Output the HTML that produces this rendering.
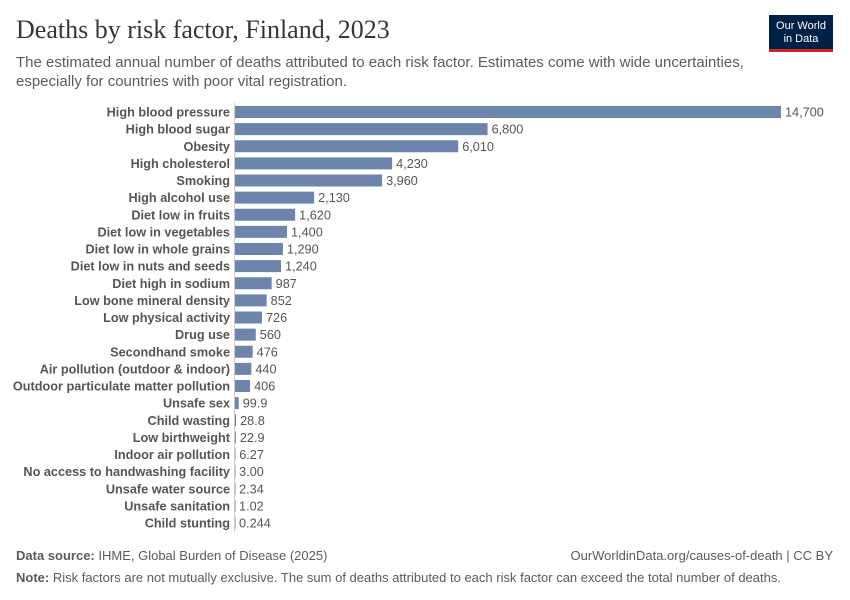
<!DOCTYPE html>
<html><head><meta charset="utf-8"><style>
body{margin:0;width:850px;height:600px;background:#fff;font-family:"Liberation Sans",sans-serif;position:relative;overflow:hidden}
.t{position:absolute;white-space:nowrap}
</style></head><body>
<div class="t" style="left:16px;top:15px;font-family:'Liberation Serif',serif;font-size:26px;color:#373737">Deaths by risk factor, Finland, 2023</div>
<div class="t" style="left:16px;top:53px;font-size:15px;line-height:19px;color:#5b5b5b">The estimated annual number of deaths attributed to each risk factor. Estimates come with wide uncertainties,<br>especially for countries with poor vital registration.</div>
<div style="position:absolute;left:769px;top:15px;width:64px;height:37px;background:#002147;border-bottom:3px solid #ce261e;box-sizing:border-box;color:#fff;font-size:11px;line-height:13px;text-align:center;padding-top:5px">Our World<br>in Data</div>
<svg id="c" width="850" height="600" style="position:absolute;left:0;top:0"></svg>
<div class="t" style="left:16px;top:548px;font-size:13px;color:#5b5b5b"><b>Data source:</b> IHME, Global Burden of Disease (2025)</div>
<div class="t" style="right:17px;top:548px;font-size:13px;color:#5b5b5b">OurWorldinData.org/causes-of-death | CC BY</div>
<div class="t" style="left:16px;top:570px;font-size:13px;color:#5b5b5b"><b>Note:</b> Risk factors are not mutually exclusive. The sum of deaths attributed to each risk factor can exceed the total number of deaths.</div>
<script>
const categories=["High blood pressure","High blood sugar","Obesity","High cholesterol","Smoking","High alcohol use","Diet low in fruits","Diet low in vegetables","Diet low in whole grains","Diet low in nuts and seeds","Diet high in sodium","Low bone mineral density","Low physical activity","Drug use","Secondhand smoke","Air pollution (outdoor & indoor)","Outdoor particulate matter pollution","Unsafe sex","Child wasting","Low birthweight","Indoor air pollution","No access to handwashing facility","Unsafe water source","Unsafe sanitation","Child stunting"];
const values=[14700,6800,6010,4230,3960,2130,1620,1400,1290,1240,987,852,726,560,476,440,406,99.9,28.8,22.9,6.27,3.00,2.34,1.02,0.244];
const valueLabels=["14,700","6,800","6,010","4,230","3,960","2,130","1,620","1,400","1,290","1,240","987","852","726","560","476","440","406","99.9","28.8","22.9","6.27","3.00","2.34","1.02","0.244"];
const svg=document.getElementById('c');const NS='http://www.w3.org/2000/svg';
const x0=235,x1=781,y0=112,y1=523;
const maxV=Math.max(...values);
const xs=v=>x0+v/maxV*(x1-x0);
const ys=i=>y0+i*(y1-y0)/(categories.length-1);
function mk(t,a){const e=document.createElementNS(NS,t);for(const k in a)e.setAttribute(k,a[k]);svg.appendChild(e);return e;}
const ax=mk('line',{x1:x0-0.5,x2:x0-0.5,y1:103,y2:532,stroke:'#ccc'});


categories.forEach((c,i)=>{
 const y=ys(i);
 const r=mk('rect',{x:x0,y:y-6,width:Math.max(xs(values[i])-x0,0.5),height:12,fill:'#6d84ad'});
 
 
 const l=mk('text',{x:x0-5,y:y+4.5,'text-anchor':'end','font-size':'12.7','font-weight':'bold',fill:'#555','font-family':'Liberation Sans,sans-serif'});
 l.textContent=c;
 
 
 const v=mk('text',{x:xs(values[i])+4,y:y+4.5,'font-size':'12.7',fill:'#555','font-family':'Liberation Sans,sans-serif'});
 v.textContent=valueLabels[i];
 
 
});
</script>
</body></html>
